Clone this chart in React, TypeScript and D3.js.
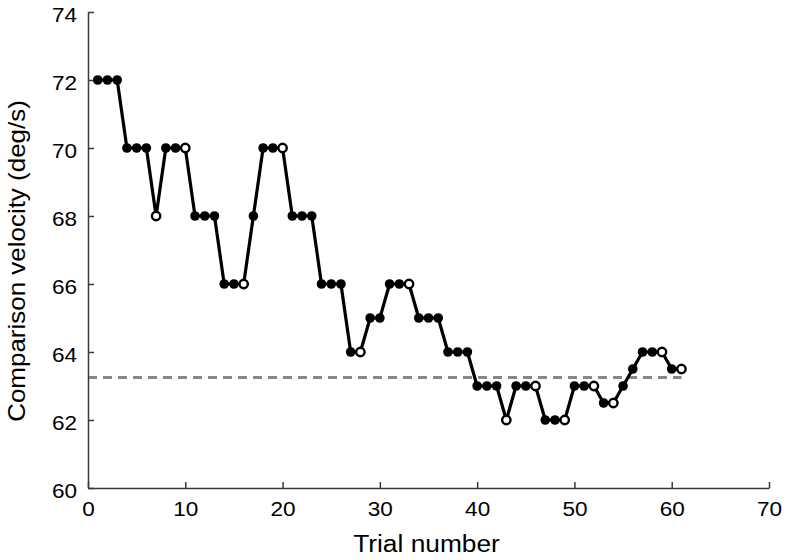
import React, { useEffect, useRef } from "react";
import * as d3 from "d3";

// staircase: comparison velocity per trial, open = reversal
const trials = d3.range(1, 62);
const velocities = [
  72, 72, 72, 70, 70, 70, 68, 70, 70, 70,
  68, 68, 68, 66, 66, 66, 68, 70, 70, 70,
  68, 68, 68, 66, 66, 66, 64, 64, 65, 65,
  66, 66, 66, 65, 65, 65, 64, 64, 64, 63,
  63, 63, 62, 63, 63, 63, 62, 62, 62, 63,
  63, 63, 62.5, 62.5, 63, 63.5, 64, 64, 64, 63.5,
  63.5,
];
const reversals = [7, 10, 16, 20, 28, 33, 43, 46, 49, 52, 54, 59, 61];
const threshold = 63.25;
const xTicks = [0, 10, 20, 30, 40, 50, 60, 70];
const yTicks = [60, 62, 64, 66, 68, 70, 72, 74];

export default function App() {
  const svgRef = useRef<SVGSVGElement>(null);

  useEffect(() => {
    const width = 786, height = 560;
    const left = 88, right = 769, top = 12, bottom = 488;
    const svg = d3.select(svgRef.current);
    svg.selectAll("*").remove();
    svg.attr("width", width).attr("height", height);

    const x = d3.scaleLinear().domain([0, 70]).range([left, right]);
    const y = d3.scaleLinear().domain([60, 74]).range([bottom, top]);
    const font = "'Liberation Sans', Arial, Helvetica, sans-serif";

    const data = trials.map((t, i) => ({ t, v: velocities[i], open: reversals.includes(t) }));

    // threshold estimate
    svg.append("line")
      .attr("x1", x(0)).attr("x2", x(61))
      .attr("y1", y(threshold)).attr("y2", y(threshold))
      .attr("stroke", "#888").attr("stroke-width", 3)
      .attr("stroke-dasharray", "9,6");

    // axes, ticks pointing inward
    const xAxis = svg.append("g")
      .attr("transform", `translate(0,${bottom})`)
      .call(d3.axisBottom(x).tickValues(xTicks).tickSize(-6).tickPadding(12).tickSizeOuter(0));
    const yAxis = svg.append("g")
      .attr("transform", `translate(${left},0)`)
      .call(d3.axisLeft(y).tickValues(yTicks).tickSize(-6).tickPadding(10).tickSizeOuter(0));
    [xAxis, yAxis].forEach(g => {
      g.select(".domain").attr("stroke", "#3a3a3a").attr("stroke-width", 1.5);
      g.selectAll(".tick line").attr("stroke", "#3a3a3a").attr("stroke-width", 1.5);
      g.selectAll(".tick text")
        .attr("font-family", font).attr("font-size", 20.5).attr("fill", "#000")
        .attr("transform", "scale(1.1,1)");
    });
    xAxis.selectAll(".tick text").attr("dy", "0.78em");
    yAxis.selectAll(".tick text").attr("dy", "0.45em");

    svg.append("path")
      .datum(data)
      .attr("fill", "none")
      .attr("stroke", "#000")
      .attr("stroke-width", 3.2)
      .attr("stroke-linejoin", "round")
      .attr("d", d3.line<any>().x(d => x(d.t)).y(d => y(d.v)));

    svg.selectAll("circle")
      .data(data)
      .join("circle")
      .attr("cx", d => x(d.t))
      .attr("cy", d => y(d.v))
      .attr("r", d => (d.open ? 4.2 : 4.8))
      .attr("fill", d => (d.open ? "#fff" : "#000"))
      .attr("stroke", "#000")
      .attr("stroke-width", d => (d.open ? 2.4 : 0));

    svg.append("text")
      .attr("transform", `translate(${(left + right) / 2 - 2},552) scale(1.12,1)`)
      .attr("text-anchor", "middle")
      .attr("font-family", font)
      .attr("font-size", 23.5)
      .text("Trial number");

    svg.append("text")
      .attr("transform", `translate(25,261) rotate(-90) scale(1.06,1)`)
      .attr("text-anchor", "middle")
      .attr("font-family", font)
      .attr("font-size", 24.5)
      .text("Comparison velocity (deg/s)");
  }, []);

  return <svg ref={svgRef} style={{ position: "absolute", left: 0, top: 0 }} />;
}
